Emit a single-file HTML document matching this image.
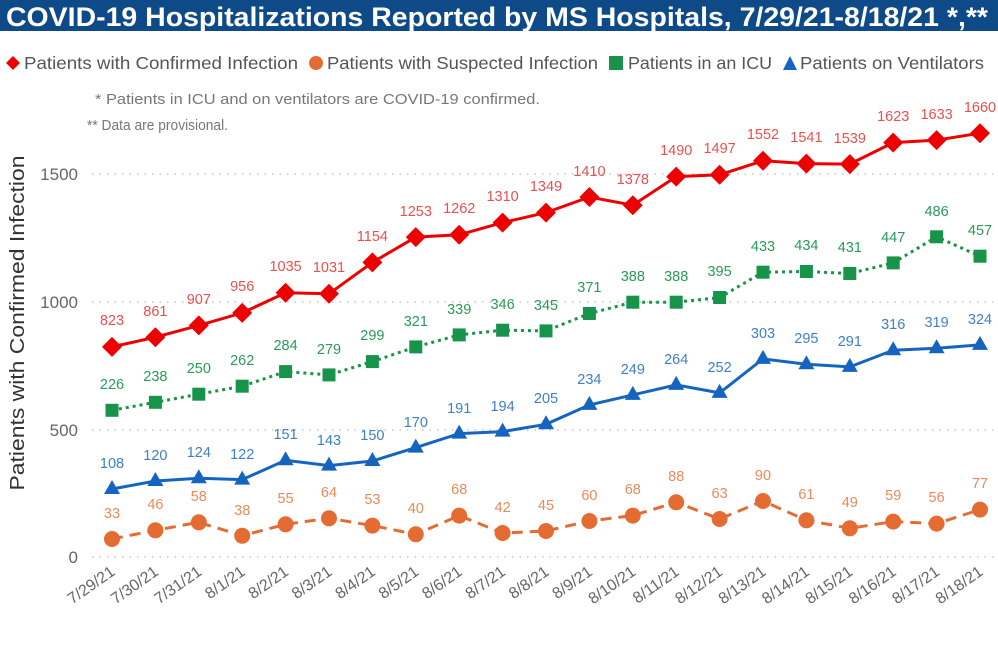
<!DOCTYPE html>
<html><head><meta charset="utf-8"><style>
body{margin:0;background:#fff;}
svg{display:block;font-family:"Liberation Sans",sans-serif;}
</style></head><body>
<svg width="998" height="647" viewBox="0 0 998 647" xmlns="http://www.w3.org/2000/svg">
<rect x="0" y="0" width="998" height="31" fill="#0d4a87"/>
<text x="6" y="26" fill="#fff" font-size="27" font-weight="bold" textLength="982" lengthAdjust="spacingAndGlyphs">COVID-19 Hospitalizations Reported by MS Hospitals, 7/29/21-8/18/21 *,**</text>
<!-- legend -->
<g font-size="17.5" fill="#555">
<path d="M13 56 L20 63 L13 70 L6 63Z" fill="#e00"/>
<text x="24" y="69" textLength="274" lengthAdjust="spacingAndGlyphs">Patients with Confirmed Infection</text>
<circle cx="316" cy="63" r="7" fill="#e46c32"/>
<text x="327" y="69" textLength="271" lengthAdjust="spacingAndGlyphs">Patients with Suspected Infection</text>
<rect x="609" y="56" width="14" height="14" fill="#18944a"/>
<text x="628" y="69" textLength="144" lengthAdjust="spacingAndGlyphs">Patients in an ICU</text>
<path d="M790 56 L797 70 L783 70Z" fill="#1565c0"/>
<text x="800" y="69" textLength="184" lengthAdjust="spacingAndGlyphs">Patients on Ventilators</text>
</g>
<text x="95" y="104" font-size="15" fill="#777" textLength="445" lengthAdjust="spacingAndGlyphs">* Patients in ICU and on ventilators are COVID-19 confirmed.</text>
<text x="87" y="130" font-size="15" fill="#777" textLength="141" lengthAdjust="spacingAndGlyphs">** Data are provisional.</text>
<!-- grid -->
<g stroke="#bbb" stroke-width="1.3" stroke-dasharray="1.5 6">
<line x1="92" y1="557" x2="998" y2="557"/>
<line x1="92" y1="430" x2="998" y2="430"/>
<line x1="92" y1="302" x2="998" y2="302"/>
<line x1="92" y1="174" x2="998" y2="174"/>
</g>
<g font-size="17" fill="#666" text-anchor="end">
<text x="78" y="563">0</text>
<text x="78" y="436">500</text>
<text x="78" y="308">1000</text>
<text x="78" y="180">1500</text>
</g>
<text transform="translate(24,323) rotate(-90)" text-anchor="middle" font-size="20" fill="#333" textLength="335" lengthAdjust="spacingAndGlyphs">Patients with Confirmed Infection</text>
<!-- x labels -->
<g font-size="16" fill="#666" text-anchor="end">
<text transform="translate(116,574) rotate(-35)">7/29/21</text>
<text transform="translate(159.4,574) rotate(-35)">7/30/21</text>
<text transform="translate(202.8,574) rotate(-35)">7/31/21</text>
<text transform="translate(246.2,574) rotate(-35)">8/1/21</text>
<text transform="translate(289.6,574) rotate(-35)">8/2/21</text>
<text transform="translate(333,574) rotate(-35)">8/3/21</text>
<text transform="translate(376.4,574) rotate(-35)">8/4/21</text>
<text transform="translate(419.8,574) rotate(-35)">8/5/21</text>
<text transform="translate(463.2,574) rotate(-35)">8/6/21</text>
<text transform="translate(506.6,574) rotate(-35)">8/7/21</text>
<text transform="translate(550,574) rotate(-35)">8/8/21</text>
<text transform="translate(593.4,574) rotate(-35)">8/9/21</text>
<text transform="translate(636.8,574) rotate(-35)">8/10/21</text>
<text transform="translate(680.2,574) rotate(-35)">8/11/21</text>
<text transform="translate(723.6,574) rotate(-35)">8/12/21</text>
<text transform="translate(767,574) rotate(-35)">8/13/21</text>
<text transform="translate(810.4,574) rotate(-35)">8/14/21</text>
<text transform="translate(853.8,574) rotate(-35)">8/15/21</text>
<text transform="translate(897.2,574) rotate(-35)">8/16/21</text>
<text transform="translate(940.6,574) rotate(-35)">8/17/21</text>
<text transform="translate(984,574) rotate(-35)">8/18/21</text>
</g>
<!-- orange -->
<polyline fill="none" stroke="#e46c32" stroke-width="3" stroke-dasharray="11 7" points="112,539 155.4,530.3 198.8,522.3 242.2,535.7 285.6,524.3 329,518.3 372.4,525.6 415.8,534.3 459.2,515.6 502.6,533 546,531 589.4,521 632.8,515.6 676.2,502.3 719.6,519 763,501 806.4,520.3 849.8,528.3 893.2,521.6 936.6,523.6 980,509.6"/>
<g fill="#e46c32">
<circle cx="112" cy="539" r="8"/><circle cx="155.4" cy="530.3" r="8"/><circle cx="198.8" cy="522.3" r="8"/><circle cx="242.2" cy="535.7" r="8"/><circle cx="285.6" cy="524.3" r="8"/><circle cx="329" cy="518.3" r="8"/><circle cx="372.4" cy="525.6" r="8"/><circle cx="415.8" cy="534.3" r="8"/><circle cx="459.2" cy="515.6" r="8"/><circle cx="502.6" cy="533" r="8"/><circle cx="546" cy="531" r="8"/><circle cx="589.4" cy="521" r="8"/><circle cx="632.8" cy="515.6" r="8"/><circle cx="676.2" cy="502.3" r="8"/><circle cx="719.6" cy="519" r="8"/><circle cx="763" cy="501" r="8"/><circle cx="806.4" cy="520.3" r="8"/><circle cx="849.8" cy="528.3" r="8"/><circle cx="893.2" cy="521.6" r="8"/><circle cx="936.6" cy="523.6" r="8"/><circle cx="980" cy="509.6" r="8"/>
</g>
<g fill="#ea8a5a" font-size="14.5" text-anchor="middle">
<text x="112" y="518">33</text><text x="155.4" y="509">46</text><text x="198.8" y="501">58</text><text x="242.2" y="515">38</text><text x="285.6" y="503">55</text><text x="329" y="497">64</text><text x="372.4" y="504">53</text><text x="415.8" y="513">40</text><text x="459.2" y="494">68</text><text x="502.6" y="512">42</text><text x="546" y="510">45</text><text x="589.4" y="500">60</text><text x="632.8" y="494">68</text><text x="676.2" y="481">88</text><text x="719.6" y="498">63</text><text x="763" y="480">90</text><text x="806.4" y="499">61</text><text x="849.8" y="507">49</text><text x="893.2" y="500">59</text><text x="936.6" y="502">56</text><text x="980" y="488">77</text>
</g>
<!-- blue -->
<polyline fill="none" stroke="#1565c0" stroke-width="3" points="112,489 155.4,481 198.8,478.3 242.2,479.6 285.6,460.3 329,465.6 372.4,461 415.8,447.6 459.2,433.6 502.6,431.6 546,424.3 589.4,404.9 632.8,394.9 676.2,384.9 719.6,392.9 763,358.9 806.4,364.2 849.8,366.9 893.2,350.2 936.6,348.2 980,344.9"/>
<g fill="#1565c0">
<path d="M112 480l8 14h-16z"/><path d="M155.4 472l8 14h-16z"/><path d="M198.8 469.3l8 14h-16z"/><path d="M242.2 470.6l8 14h-16z"/><path d="M285.6 451.3l8 14h-16z"/><path d="M329 456.6l8 14h-16z"/><path d="M372.4 452l8 14h-16z"/><path d="M415.8 438.6l8 14h-16z"/><path d="M459.2 424.6l8 14h-16z"/><path d="M502.6 422.6l8 14h-16z"/><path d="M546 415.3l8 14h-16z"/><path d="M589.4 395.9l8 14h-16z"/><path d="M632.8 385.9l8 14h-16z"/><path d="M676.2 375.9l8 14h-16z"/><path d="M719.6 383.9l8 14h-16z"/><path d="M763 349.9l8 14h-16z"/><path d="M806.4 355.2l8 14h-16z"/><path d="M849.8 357.9l8 14h-16z"/><path d="M893.2 341.2l8 14h-16z"/><path d="M936.6 339.2l8 14h-16z"/><path d="M980 335.9l8 14h-16z"/>
</g>
<g fill="#3f7fc6" font-size="14.5" text-anchor="middle">
<text x="112" y="468">108</text><text x="155.4" y="460">120</text><text x="198.8" y="457">124</text><text x="242.2" y="459">122</text><text x="285.6" y="439">151</text><text x="329" y="445">143</text><text x="372.4" y="440">150</text><text x="415.8" y="427">170</text><text x="459.2" y="413">191</text><text x="502.6" y="411">194</text><text x="546" y="403">205</text><text x="589.4" y="384">234</text><text x="632.8" y="374">249</text><text x="676.2" y="364">264</text><text x="719.6" y="372">252</text><text x="763" y="338">303</text><text x="806.4" y="343">295</text><text x="849.8" y="346">291</text><text x="893.2" y="329">316</text><text x="936.6" y="327">319</text><text x="980" y="324">324</text>
</g>
<!-- green -->
<polyline fill="none" stroke="#18944a" stroke-width="3" stroke-dasharray="3 4" points="112,410.3 155.4,402.3 198.8,394.2 242.2,386.2 285.6,371.6 329,374.9 372.4,361.6 415.8,346.9 459.2,334.9 502.6,330.2 546,330.9 589.4,313.5 632.8,302.2 676.2,302.2 719.6,297.5 763,272.2 806.4,271.5 849.8,273.5 893.2,262.9 936.6,236.8 980,256.2"/>
<g fill="#18944a">
<rect x="105.5" y="403.8" width="13" height="13"/><rect x="148.9" y="395.8" width="13" height="13"/><rect x="192.3" y="387.7" width="13" height="13"/><rect x="235.7" y="379.7" width="13" height="13"/><rect x="279.1" y="365.1" width="13" height="13"/><rect x="322.5" y="368.4" width="13" height="13"/><rect x="365.9" y="355.1" width="13" height="13"/><rect x="409.3" y="340.4" width="13" height="13"/><rect x="452.7" y="328.4" width="13" height="13"/><rect x="496.1" y="323.7" width="13" height="13"/><rect x="539.5" y="324.4" width="13" height="13"/><rect x="582.9" y="307" width="13" height="13"/><rect x="626.3" y="295.7" width="13" height="13"/><rect x="669.7" y="295.7" width="13" height="13"/><rect x="713.1" y="291" width="13" height="13"/><rect x="756.5" y="265.7" width="13" height="13"/><rect x="799.9" y="265" width="13" height="13"/><rect x="843.3" y="267" width="13" height="13"/><rect x="886.7" y="256.4" width="13" height="13"/><rect x="930.1" y="230.3" width="13" height="13"/><rect x="973.5" y="249.7" width="13" height="13"/>
</g>
<g fill="#2a9a58" font-size="14.5" text-anchor="middle">
<text x="112" y="389">226</text><text x="155.4" y="381">238</text><text x="198.8" y="373">250</text><text x="242.2" y="365">262</text><text x="285.6" y="350">284</text><text x="329" y="354">279</text><text x="372.4" y="340">299</text><text x="415.8" y="326">321</text><text x="459.2" y="314">339</text><text x="502.6" y="309">346</text><text x="546" y="310">345</text><text x="589.4" y="292">371</text><text x="632.8" y="281">388</text><text x="676.2" y="281">388</text><text x="719.6" y="276">395</text><text x="763" y="251">433</text><text x="806.4" y="250">434</text><text x="849.8" y="252">431</text><text x="893.2" y="242">447</text><text x="936.6" y="216">486</text><text x="980" y="235">457</text>
</g>
<!-- red -->
<polyline fill="none" stroke="#e00" stroke-width="3" points="112,346.9 155.4,337.2 198.8,325.4 242.2,312.9 285.6,292.8 329,293.8 372.4,262.4 415.8,237.1 459.2,234.8 502.6,222.6 546,212.6 589.4,197 632.8,205.2 676.2,176.6 719.6,174.8 763,160.8 806.4,163.6 849.8,164.1 893.2,142.6 936.6,140.1 980,133.2"/>
<g fill="#e00">
<path d="M112 336.9l10 10l-10 10l-10-10z"/><path d="M155.4 327.2l10 10l-10 10l-10-10z"/><path d="M198.8 315.4l10 10l-10 10l-10-10z"/><path d="M242.2 302.9l10 10l-10 10l-10-10z"/><path d="M285.6 282.8l10 10l-10 10l-10-10z"/><path d="M329 283.8l10 10l-10 10l-10-10z"/><path d="M372.4 252.4l10 10l-10 10l-10-10z"/><path d="M415.8 227.1l10 10l-10 10l-10-10z"/><path d="M459.2 224.8l10 10l-10 10l-10-10z"/><path d="M502.6 212.6l10 10l-10 10l-10-10z"/><path d="M546 202.6l10 10l-10 10l-10-10z"/><path d="M589.4 187l10 10l-10 10l-10-10z"/><path d="M632.8 195.2l10 10l-10 10l-10-10z"/><path d="M676.2 166.6l10 10l-10 10l-10-10z"/><path d="M719.6 164.8l10 10l-10 10l-10-10z"/><path d="M763 150.8l10 10l-10 10l-10-10z"/><path d="M806.4 153.6l10 10l-10 10l-10-10z"/><path d="M849.8 154.1l10 10l-10 10l-10-10z"/><path d="M893.2 132.6l10 10l-10 10l-10-10z"/><path d="M936.6 130.1l10 10l-10 10l-10-10z"/><path d="M980 123.2l10 10l-10 10l-10-10z"/>
</g>
<g fill="#e85050" font-size="14.5" text-anchor="middle">
<text x="112" y="325">823</text><text x="155.4" y="316">861</text><text x="198.8" y="304">907</text><text x="242.2" y="291">956</text><text x="285.6" y="271">1035</text><text x="329" y="272">1031</text><text x="372.4" y="241">1154</text><text x="415.8" y="216">1253</text><text x="459.2" y="213">1262</text><text x="502.6" y="201">1310</text><text x="546" y="191">1349</text><text x="589.4" y="176">1410</text><text x="632.8" y="184">1378</text><text x="676.2" y="155">1490</text><text x="719.6" y="153">1497</text><text x="763" y="139">1552</text><text x="806.4" y="142">1541</text><text x="849.8" y="143">1539</text><text x="893.2" y="121">1623</text><text x="936.6" y="119">1633</text><text x="980" y="112">1660</text>
</g>
</svg>
</body></html>
